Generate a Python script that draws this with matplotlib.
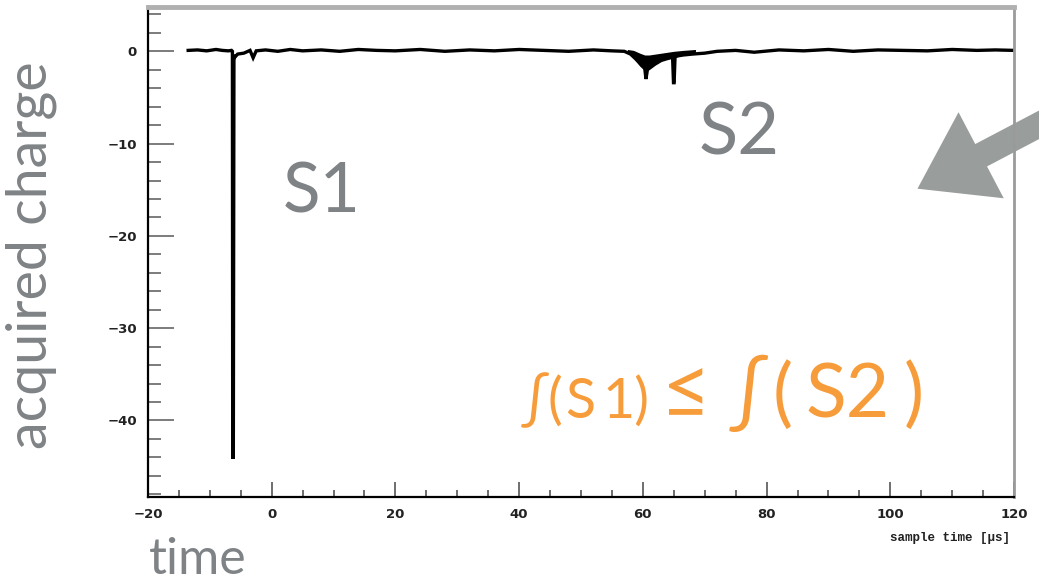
import matplotlib
matplotlib.use("Agg")
import matplotlib.pyplot as plt
from matplotlib.patches import FancyArrowPatch
from matplotlib.ticker import MultipleLocator

# waveform (time in us, charge)
trace_t = [-13.5, -12, -10.5, -9, -8, -7, -6.5, -6.35, -6.3, -6.2, -6.1, -5.9, -5.5,
           -4.5, -3.5, -3, -2.5, -1, 1, 3, 5, 8, 11, 14, 17, 20, 24, 28, 32, 36, 40,
           44, 48, 52, 55, 57, 58, 58.8, 59.5, 60.0, 60.3, 60.5, 60.8, 61.3, 61.8,
           62.5, 63.3, 64.2, 64.8, 64.95, 65.05, 65.2, 65.6, 66.5, 68, 70, 72, 75,
           78, 82, 86, 90, 94, 98, 102, 106, 110, 114, 117, 120]
trace_q = [0.1, 0.15, 0.05, 0.2, 0.1, 0.05, 0.1, 0.0, -44.0, -44.0, -0.4, -0.6, -0.3,
           -0.2, 0.1, -0.7, 0.05, 0.15, 0.0, 0.2, 0.05, 0.15, 0.0, 0.2, 0.1, 0.05, 0.2,
           0.0, 0.15, 0.05, 0.2, 0.1, 0.0, 0.15, 0.05, 0.0, -0.3, -0.8, -1.3, -1.6,
           -1.8, -3.0, -1.7, -1.5, -1.3, -1.0, -0.8, -0.7, -0.6, -3.4, -3.4, -0.6,
           -0.5, -0.4, -0.3, -0.2, 0.0, 0.1, -0.1, 0.15, 0.05, 0.2, 0.0, 0.15, 0.1,
           0.05, 0.2, 0.1, 0.15, 0.1]

# S2 pile-up band (upper/lower envelope)
blob_t = [57.5, 58.5, 59.5, 60.3, 61.0, 62.0, 63.0, 64.0, 65.0, 66.5, 68.5]
blob_hi = [0.2, 0.1, -0.2, -0.4, -0.4, -0.3, -0.2, -0.1, 0.0, 0.1, 0.2]
blob_lo = [0.0, -0.7, -1.6, -2.1, -2.0, -1.5, -1.1, -0.9, -0.7, -0.4, -0.1]

x_ticks = [-20, 0, 20, 40, 60, 80, 100, 120]
x_labels = ["\u221220", "0", "20", "40", "60", "80", "100", "120"]
y_ticks = [0, -10, -20, -30, -40]
y_labels = ["0", "\u221210", "\u221220", "\u221230", "\u221240"]

grey = "#7f8385"
orange = "#f79c3a"
W, H = 1039, 585

fig = plt.figure(figsize=(10.39, 5.85), dpi=100)
ax = fig.add_axes([0.1424, 0.1504, 0.8336, 0.8376])
ax.patch.set_alpha(0)

ax.plot(trace_t, trace_q, color="black", lw=2.4, solid_joinstyle="miter")
ax.fill_between(blob_t, blob_lo, blob_hi, color="black", lw=0)

ax.set_xlim(-20, 120)
ax.set_ylim(-48.3, 4.8)
ax.set_xticks(x_ticks, x_labels)
ax.set_yticks(y_ticks, y_labels)
ax.xaxis.set_minor_locator(MultipleLocator(5))
ax.yaxis.set_minor_locator(MultipleLocator(2))
ax.tick_params(axis="y", which="major", direction="in", length=19, width=1.2, color="#666666", pad=8)
ax.tick_params(axis="y", which="minor", direction="in", length=9, width=1.2, color="#666666")
ax.tick_params(axis="x", which="major", direction="in", length=11, width=1.2, color="#555555", pad=8)
ax.tick_params(axis="x", which="minor", direction="in", length=5, width=1.2, color="#555555")
for lab in ax.get_xticklabels() + ax.get_yticklabels():
    lab.set_fontweight("bold")
    lab.set_fontsize(9.5)
    lab.set_color("#222222")

ax.spines["top"].set_color("#b0b0b0")
ax.spines["top"].set_linewidth(3.5)
ax.spines["right"].set_color("#9a9a9a")
ax.spines["right"].set_linewidth(2)
ax.spines["left"].set_linewidth(1.6)
ax.spines["bottom"].set_linewidth(1.6)

fig.text(0.972, 0.08, "sample time [\u03bcs]", family="Liberation Mono", weight="bold",
         fontsize=9, ha="right", va="center", color="#222222")

# annotations
fig.text(0.03, 1 - 255 / H, "acquired charge", family="Lato", fontsize=40, color=grey,
         rotation=90, ha="center", va="center")
fig.text(0.1435, 0.004, "time", family="Lato", fontsize=36, color=grey, ha="left", va="bottom")
ax.text(1.8, -17.5, "S1", family="Lato", fontsize=50, color=grey, ha="left", va="baseline")
ax.text(69, -11.2, "S2", family="Lato", fontsize=52, color=grey, ha="left", va="baseline")

# formula, placed piece by piece (x pixel, text, size)
small_pieces = [(521, "\u222b(", 40), (565, "S", 40), (603, "1)", 40), (661, "\u2264", 62)]
big_pieces = [(729, "\u222b", 56), (773, "(", 54), (806, "S2", 54), (904, ")", 54)]
for px, s, fs in small_pieces + big_pieces:
    fig.text(px / W, 1 - 418 / H, s, family=["Lato", "DejaVu Sans"], fontsize=fs,
             color=orange, ha="left", va="baseline")

arrow = FancyArrowPatch((1052 / W, 1 - 118 / H), (915 / W, 1 - 190 / H),
                        transform=fig.transFigure,
                        arrowstyle="simple,head_length=0.37,head_width=0.5,tail_width=0.13",
                        mutation_scale=140, color="#999d9c", lw=0, zorder=0)
fig.add_artist(arrow)

fig.savefig("out.png", dpi=100)
